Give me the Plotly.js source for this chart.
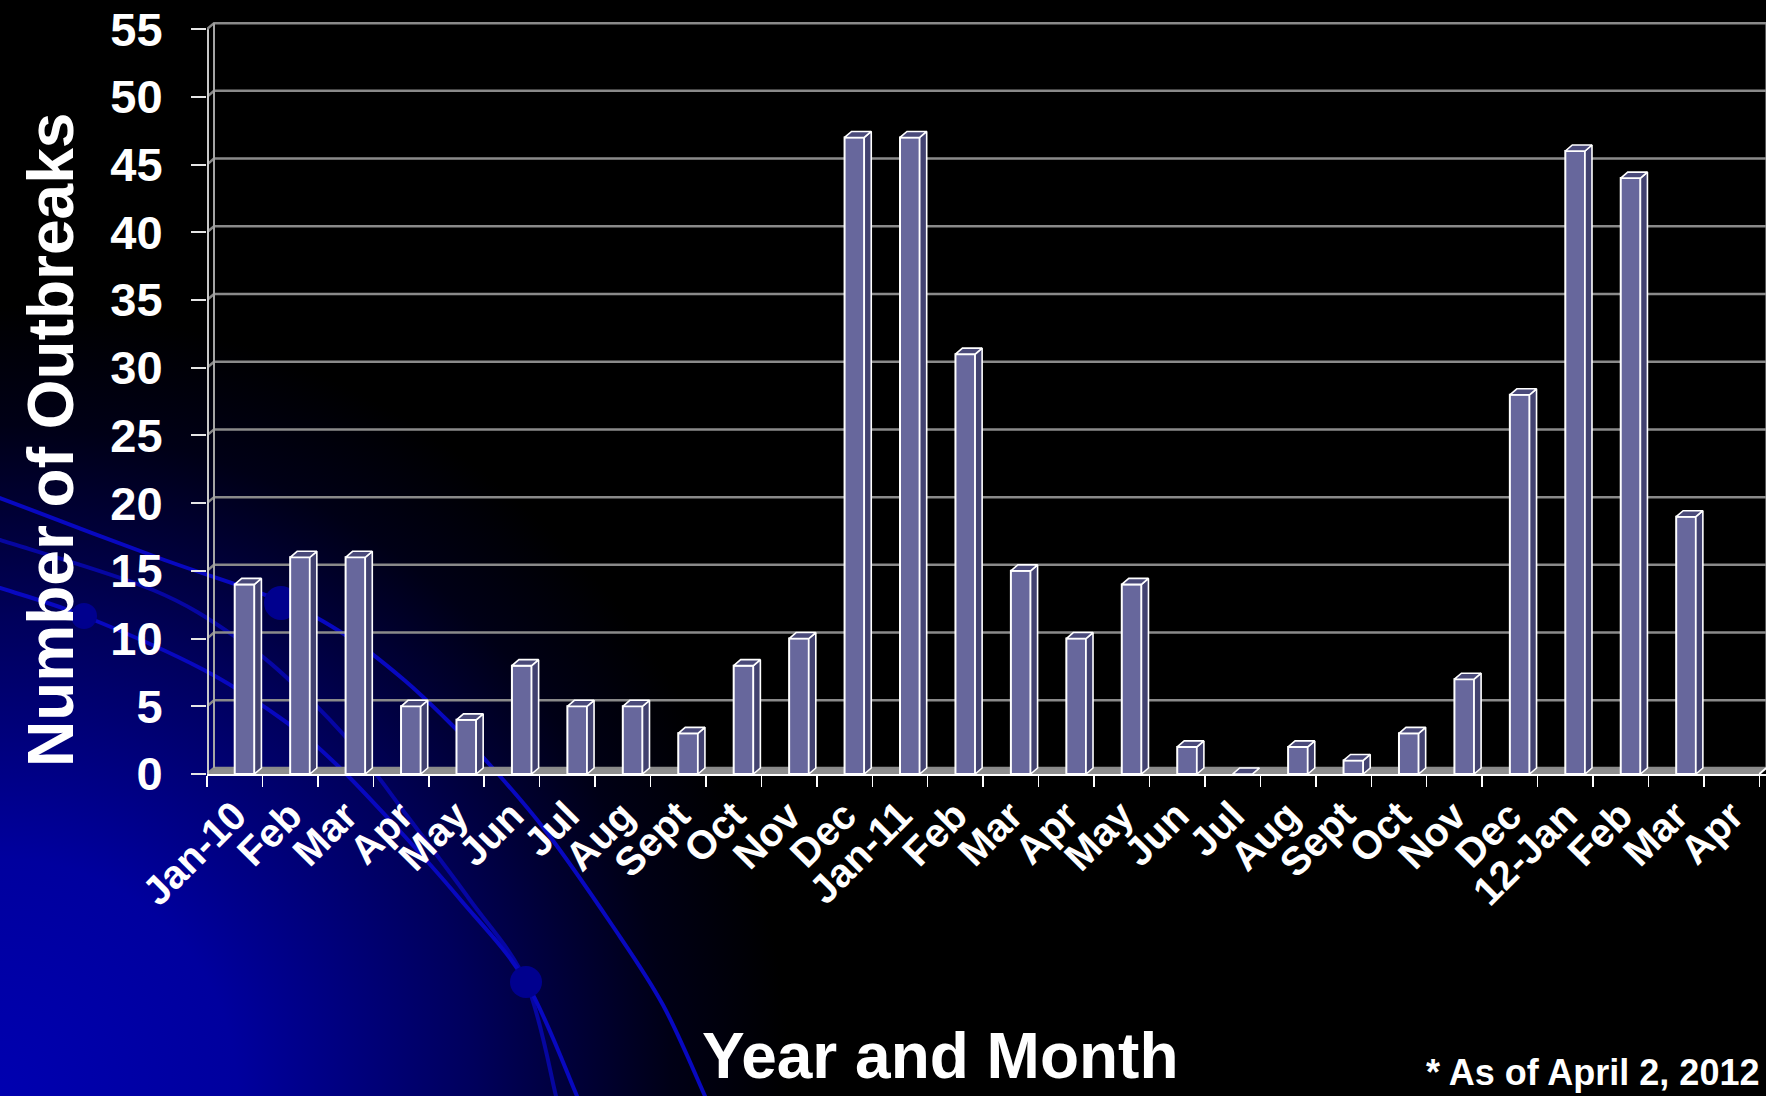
<!DOCTYPE html>
<html>
<head>
<meta charset="utf-8">
<script src="https://cdn.plot.ly/plotly-3.0.1.min.js"></script>
<style>
html,body{margin:0;padding:0;background:#000;overflow:hidden;width:1766px;height:1096px;}
#bg{position:absolute;left:0;top:0;}
#chart{position:absolute;left:0;top:0;width:1766px;height:1096px;}
</style>
</head>
<body>
<svg id="bg" width="1766" height="1096" viewBox="0 0 1766 1096" xmlns="http://www.w3.org/2000/svg">
  <defs>
    <radialGradient id="glow" cx="0" cy="1096" r="790" gradientUnits="userSpaceOnUse">
      <stop offset="0" stop-color="#0000b0"/>
      <stop offset="0.3" stop-color="#00009e"/>
      <stop offset="0.6" stop-color="#00005c"/>
      <stop offset="0.85" stop-color="#000016"/>
      <stop offset="1" stop-color="#000000"/>
    </radialGradient>
  </defs>
  <rect width="1766" height="1096" fill="url(#glow)"/>
  <g id="arcs" fill="none" stroke="#0808c0" stroke-width="4" stroke-linecap="round"></g>
  <g id="dots" fill="#00008e"></g>
</svg>
<div id="chart"></div>
<script>
// ---------------- data ----------------
const monthLabels = ['Jan-10','Feb','Mar','Apr','May','Jun','Jul','Aug','Sept','Oct','Nov','Dec',
                     'Jan-11','Feb','Mar','Apr','May','Jun','Jul','Aug','Sept','Oct','Nov','Dec',
                     '12-Jan','Feb','Mar','Apr'];
const outbreaks = [14,16,16,5,4,8,5,5,3,8,10,47,
                   47,31,15,10,14,2,0,2,1,3,7,28,
                   46,44,19,null];
const yTickVals = [0,5,10,15,20,25,30,35,40,45,50,55];
const yTitle = 'Number of Outbreaks';
const xTitle = 'Year and Month';
const footnote = '* As of April 2, 2012';

// ---------------- geometry ----------------
const FONT = "'Liberation Sans', Arial, Helvetica, sans-serif";
const W = 1766, H = 1096, ML = 207, MR = 0, MT = 21, MB = 322;
const nCat = monthLabels.length;
const xMin = -0.5, xMax = nCat - 0.5;
const xRange = [xMin, xMax + 0.12];
const yRange = [0, 55.6];
const yTop = yTickVals[yTickVals.length - 1];
const PW = W - ML - MR, PH = H - MT - MB;
const pxPerX = PW / (xRange[1] - xRange[0]);
const pxPerY = PH / (yRange[1] - yRange[0]);
const DX = 7 / pxPerX, DY = 6 / pxPerY;   // 3-D depth offsets
const BW = 0.355;                          // bar front width (category units)
const idx = monthLabels.map((_, i) => i);
const boundaries = [];
for (let i = 0; i <= nCat; i++) boundaries.push(i - 0.5);
// pixel -> paper helpers for the free texts
const px2paperX = px => (px - ML) / PW;
const px2paperY = py => ((H - MB) - py) / PH;

// side and top faces of the 3-D columns, built from the values
const sideX = [], sideY = [], topX = [], topY = [];
outbreaks.forEach((v, i) => {
  if (v === null) return;
  const x0 = i, x1 = i + BW;
  sideX.push(x1, x1 + DX, x1 + DX, x1, x1, null);
  sideY.push(0, DY, v + DY, v, 0, null);
  topX.push(x0, x1, x1 + DX, x0 + DX, x0, null);
  topY.push(v, v, v + DY, v + DY, v, null);
});

const traces = [
  {type: 'bar', x: idx, y: outbreaks, width: BW, offset: 0,
   marker: {color: '#67679c', line: {color: '#ffffff', width: 2}},
   hoverinfo: 'x+y', showlegend: false},
  {type: 'scatter', mode: 'lines', x: sideX, y: sideY, fill: 'toself',
   fillcolor: '#424270', line: {color: '#ffffff', width: 1.6}, hoverinfo: 'skip', showlegend: false},
  {type: 'scatter', mode: 'lines', x: topX, y: topY, fill: 'toself',
   fillcolor: '#4a4a7a', line: {color: '#ffffff', width: 1.6}, hoverinfo: 'skip', showlegend: false}
];

// back wall, floor and grid
const shapes = [];
shapes.push({type: 'path', xref: 'x', yref: 'y', layer: 'below',
  path: `M ${xMin},0 L ${xMax},0 L ${xMax + DX},${DY} L ${xMin + DX},${DY} Z`,
  fillcolor: '#8e8e8e', line: {width: 0}});
yTickVals.forEach(t => {
  shapes.push({type: 'path', xref: 'x', yref: 'y', layer: 'below',
    path: `M ${xMin},${t} L ${xMin + DX},${t + DY} L ${xMax + DX},${t + DY}`,
    line: {color: '#8a8a8a', width: 2.5}});
});
shapes.push({type: 'path', xref: 'x', yref: 'y', layer: 'below',
  path: `M ${xMin + DX},${DY} L ${xMin + DX},${yTop + DY}`, line: {color: '#a4a4a4', width: 2}});
shapes.push({type: 'path', xref: 'x', yref: 'y', layer: 'below',
  path: `M ${xMax + DX},${DY} L ${xMax + DX},${yTop + DY}`, line: {color: '#8a8a8a', width: 2}});
shapes.push({type: 'path', xref: 'x', yref: 'y', layer: 'above',
  path: `M ${xMin},0 L ${xMin},${yTop}`, line: {color: '#c8c8c8', width: 4}});
shapes.push({type: 'path', xref: 'x', yref: 'y', layer: 'above',
  path: `M ${xMax},0 L ${xMax + DX},${DY}`, line: {color: '#ffffff', width: 2}});

const boldFont = s => ({family: FONT, size: s, color: '#ffffff', weight: 'bold'});

const layout = {
  width: W, height: H,
  margin: {l: ML, r: MR, t: MT, b: MB, pad: 0},
  paper_bgcolor: 'rgba(0,0,0,0)', plot_bgcolor: 'rgba(0,0,0,0)',
  showlegend: false,
  font: {family: FONT, color: '#ffffff'},
  xaxis: {
    range: xRange, tickmode: 'array', tickvals: idx, ticktext: monthLabels,
    tickangle: -45, ticks: '', showgrid: false, zeroline: false,
    showline: true, linecolor: '#ffffff', linewidth: 2,
    tickfont: boldFont(40), ticklabelstandoff: 0,
    minor: {tickmode: 'array', tickvals: boundaries, ticks: 'outside', ticklen: 11,
            tickwidth: 1.5, tickcolor: '#ffffff', showgrid: false},
    automargin: false, fixedrange: true
  },
  yaxis: {
    range: yRange, tickmode: 'array', tickvals: yTickVals,
    ticks: 'outside', ticklen: 15, tickwidth: 2, tickcolor: '#e6e6e6',
    showgrid: false, zeroline: false, showline: false,
    tickfont: boldFont(47), ticklabelstandoff: 19,
    automargin: false, fixedrange: true
  },
  shapes: shapes,
  annotations: [
    {text: yTitle, showarrow: false, textangle: -90, xref: 'paper', yref: 'paper',
     x: px2paperX(51), xanchor: 'center', y: px2paperY(440), yanchor: 'middle',
     font: boldFont(64)},
    {text: xTitle, showarrow: false, xref: 'paper', yref: 'paper',
     x: px2paperX(940), xanchor: 'center', y: px2paperY(1094), yanchor: 'bottom',
     font: boldFont(64)},
    {text: footnote, showarrow: false, xref: 'paper', yref: 'paper',
     x: px2paperX(1424), xanchor: 'left', y: px2paperY(1095), yanchor: 'bottom',
     font: boldFont(36)}
  ]
};

Plotly.newPlot('chart', traces, layout, {displayModeBar: false, staticPlot: true});

// ---------------- decorative background arcs ----------------
function smoothPath(pts) {
  let d = `M ${pts[0][0]},${pts[0][1]}`;
  for (let i = 0; i < pts.length - 1; i++) {
    const p0 = pts[Math.max(0, i - 1)], p1 = pts[i], p2 = pts[i + 1], p3 = pts[Math.min(pts.length - 1, i + 2)];
    const c1 = [p1[0] + (p2[0] - p0[0]) / 6, p1[1] + (p2[1] - p0[1]) / 6];
    const c2 = [p2[0] - (p3[0] - p1[0]) / 6, p2[1] - (p3[1] - p1[1]) / 6];
    d += ` C ${c1[0]},${c1[1]} ${c2[0]},${c2[1]} ${p2[0]},${p2[1]}`;
  }
  return d;
}
const arcDefs = [
  [[0,498],[159,558],[281,601],[347,636],[403,679],[449,722],[490,765],[545,830],[612,925],[663,1005],[705,1096]],
  [[0,588],[84,616],[204,670],[286,722],[337,765],[398,829],[459,898],[526,982],[577,1096]],
  [[0,540],[153,590],[240,640],[300,690],[357,750],[408,817],[470,900],[526,982],[556,1096]],
];
const ns = 'http://www.w3.org/2000/svg';
const g = document.getElementById('arcs');
arcDefs.forEach((pts, k) => {
  const p = document.createElementNS(ns, 'path');
  p.setAttribute('d', smoothPath(pts));
  if (k === 2) p.setAttribute('stroke-opacity', '0.75');
  g.appendChild(p);
});
const dots = document.getElementById('dots');
[[281,603,17],[84,616,13],[526,982,16]].forEach(c => {
  const e = document.createElementNS(ns, 'circle');
  e.setAttribute('cx', c[0]); e.setAttribute('cy', c[1]); e.setAttribute('r', c[2]);
  dots.appendChild(e);
});
</script>
</body>
</html>
